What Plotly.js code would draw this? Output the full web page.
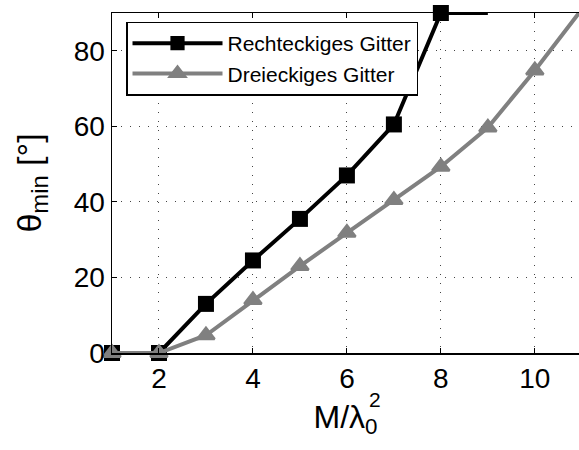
<!DOCTYPE html>
<html>
<head>
<meta charset="utf-8">
<script src="https://cdn.plot.ly/plotly-3.0.1.min.js"></script>
<style>html,body{margin:0;padding:0;background:#fff;}</style>
</head>
<body>
<div id="chart" style="width:579px;height:450px;"></div>
<script>
// Data
const xRect = [1, 2, 3, 4, 5, 6, 7, 8, 9];
const yRect = [0, 0, 13, 24.5, 35.5, 47, 60.5, 90, 90];
const xTri = [1, 2, 3, 4, 5, 6, 7, 8, 9, 10, 11];
const yTri = [0, 0, 4.7, 14, 23, 31.8, 40.5, 49.3, 59.7, 74.8, 91];
const nameRect = "Rechteckiges Gitter";
const nameTri = "Dreieckiges Gitter";
const xTicks = [2, 4, 6, 8, 10];
const yTicks = [0, 20, 40, 60, 80];

const rectSizes = xRect.map((x, i) => i === xRect.length - 1 ? 0 : 16);
const triSizes = xTri.map((x, i) => i === xTri.length - 1 ? 0 : 15);

const font = "Liberation Sans, Arial, Helvetica, sans-serif";

const traces = [
  {
    x: xRect, y: yRect, name: nameRect, type: "scatter", mode: "lines+markers",
    line: {color: "#000000", width: 4},
    marker: {symbol: "square", size: rectSizes, color: "#000000", opacity: 1, line: {width: 0}},
    cliponaxis: false
  },
  {
    x: xTri, y: yTri, name: nameTri, type: "scatter", mode: "lines+markers",
    line: {color: "#808080", width: 4},
    marker: {symbol: "triangle-up", size: triSizes, color: "#808080", opacity: 1, line: {color: "#808080", width: 2.5}},
    cliponaxis: false
  }
];

const axisCommon = {
  showline: true, linecolor: "#000", linewidth: 1.5,
  ticks: "inside", ticklen: 5, tickcolor: "#000", tickwidth: 1,
  showgrid: true, gridcolor: "#444", gridwidth: 1, griddash: "1px,8px",
  zeroline: false,
  tickfont: {family: font, size: 28, color: "#000"}
};

const layout = {
  width: 579, height: 450,
  margin: {l: 112, r: 0, t: 13, b: 97},
  paper_bgcolor: "#fff", plot_bgcolor: "#fff",
  showlegend: true,
  legend: {
    x: 0.03, y: 0.975, xanchor: "left", yanchor: "top",
    bgcolor: "#fff", bordercolor: "#000", borderwidth: 1.5,
    font: {family: font, size: 21, color: "#000"},
    itemwidth: 90, tracegroupgap: 0
  },
  xaxis: Object.assign({}, axisCommon, {
    range: [1, 10.94], tickvals: xTicks, ticktext: xTicks.map(String),
    mirror: "ticks",
    title: {text: "M/λ<sub>0</sub>", font: {family: font, size: 32, color: "#000"}, standoff: 12}
  }),
  yaxis: Object.assign({}, axisCommon, {
    range: [0, 90], tickvals: yTicks, ticktext: yTicks.map(String),
    mirror: false,
    title: {text: "θ<sub>min</sub> [°]", font: {family: font, size: 34, color: "#000"}, standoff: 22}
  }),
  annotations: [{
    text: "2", xref: "paper", yref: "paper", x: 0.546, y: -0.138,
    xanchor: "left", yanchor: "middle", showarrow: false,
    font: {family: font, size: 21, color: "#000"}
  }]
};

Plotly.newPlot("chart", traces, layout, {displayModeBar: false, staticPlot: true});
</script>
</body>
</html>
